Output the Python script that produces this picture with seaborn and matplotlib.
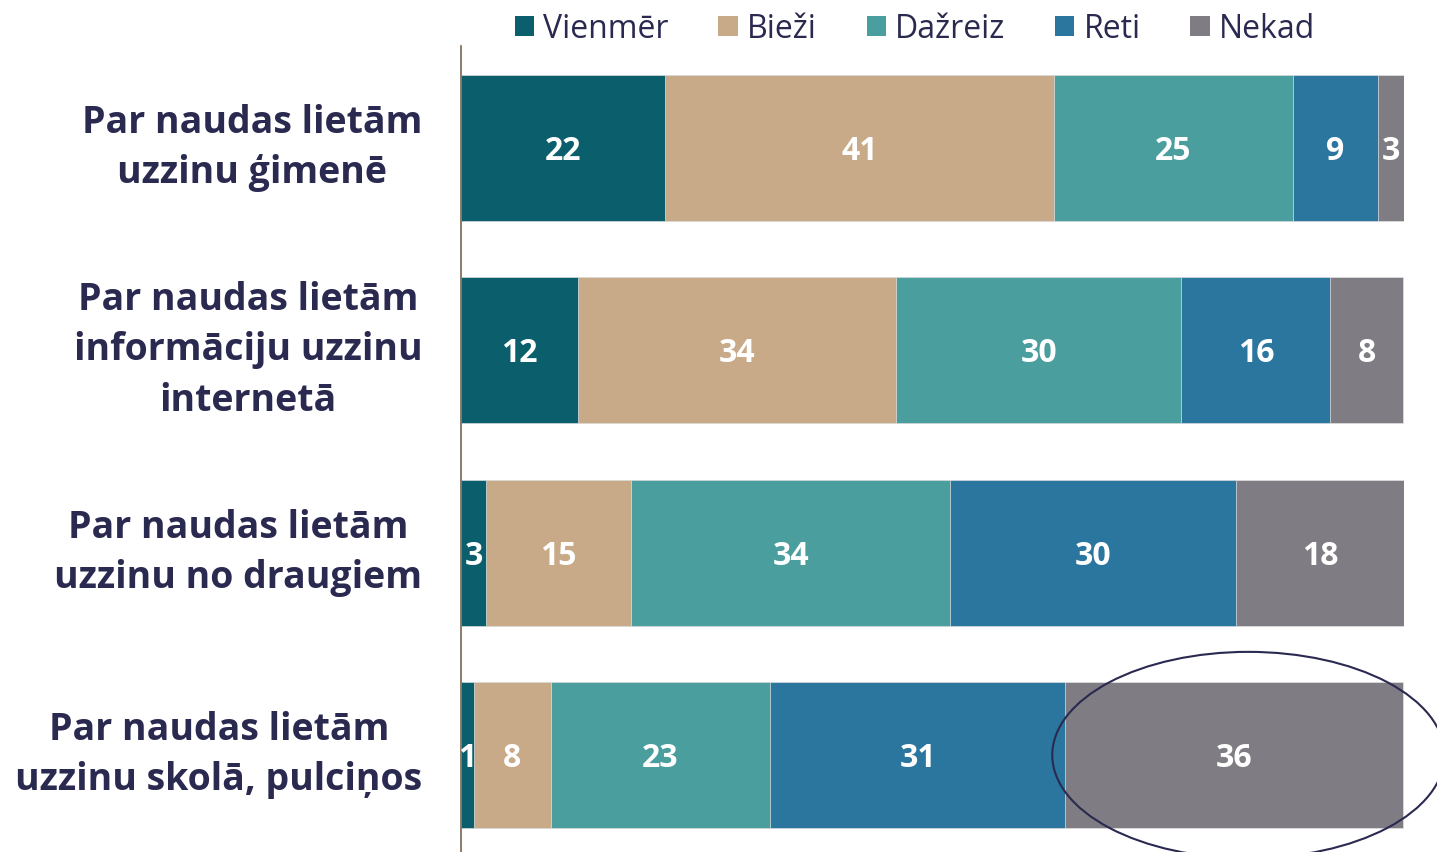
import numpy as np
import pandas as pd
import seaborn as sns
import matplotlib.pyplot as plt
from matplotlib.patches import Ellipse, Patch

questions = [
    "Par naudas lietām\nuzzinu ģimenē",
    "Par naudas lietām\ninformāciju uzzinu\ninternetā",
    "Par naudas lietām\nuzzinu no draugiem",
    "Par naudas lietām\nuzzinu skolā, pulciņos",
]
categories = ["Vienmēr", "Bieži", "Dažreiz", "Reti", "Nekad"]

# shares in %
vienmer = [21.6, 12.4, 2.7, 1.4]
biezi = [41.3, 33.7, 15.3, 8.1]
dazreiz = [25.3, 30.3, 33.9, 23.3]
reti = [9.0, 15.8, 30.3, 31.3]
nekad = [2.8, 7.7, 17.8, 35.8]

colors = ["#0b5e6b", "#c9aa88", "#4a9e9e", "#2a769f", "#7f7d83"]
navy = "#2a2950"

sns.set_theme(style="white")
plt.rcParams["font.family"] = ["Open Sans", "DejaVu Sans"]

rows = []
for cat, vals in zip(categories, [vienmer, biezi, dazreiz, reti, nekad]):
    for q, v in zip(questions, vals):
        rows.append({"question": q, "category": cat, "value": v})
df = pd.DataFrame(rows)
df["qi"] = df["question"].map({q: i for i, q in enumerate(questions)})
df["ci"] = df["category"].map({c: i for i, c in enumerate(categories)})
df = df.sort_values(["qi", "ci"])
df["cum"] = df.groupby("qi")["value"].cumsum()
df["start"] = df["cum"] - df["value"]

fig = plt.figure(figsize=(14.37, 8.52), dpi=100)
ax = fig.add_axes([461 / 1437, 0.0, 943 / 1437, 1 - 46 / 852])

# stacked bars: draw cumulative totals from the widest down
for cat, col in reversed(list(zip(categories, colors))):
    sub = df[df["category"] == cat]
    sns.barplot(data=sub, x="cum", y="question", order=questions, color=col,
                width=0.72, orient="h", ax=ax, saturation=1,
                edgecolor="#e2e2e2", linewidth=0.5)

for _, r in df.iterrows():
    ax.text(r["start"] + r["value"] / 2, r["qi"] + 0.018, f"{round(r['value'])}",
            ha="center", va="center", color="white", fontsize=23,
            fontweight="bold")

for i, q in enumerate(questions):
    ax.text(-4.1, i, q, ha="right", va="center", multialignment="center",
            fontsize=27, fontweight="bold", color=navy, linespacing=1.42,
            clip_on=False)

ax.add_patch(Ellipse((83.5, 3), 41.6, 1.02, fill=False, edgecolor=navy,
                     linewidth=1.5, clip_on=False))

ax.set_xlim(0, 100)
ax.set_ylim(3.479, -0.504)
ax.set_xlabel("")
ax.set_ylabel("")
ax.set_xticks([])
ax.set_yticks([])
for s in ["top", "right", "bottom"]:
    ax.spines[s].set_visible(False)
ax.spines["left"].set_color("#7a6552")
ax.spines["left"].set_linewidth(1.2)

handles = [Patch(facecolor=c, edgecolor="none") for c in colors]
fig.legend(handles, categories, loc="center", bbox_to_anchor=(915 / 1437, 1 - 29 / 852),
           ncol=5, frameon=False, fontsize=23, handlelength=0.6, handleheight=0.6,
           handletextpad=0.3, columnspacing=1.55, labelcolor=navy)

fig.savefig("out.png", dpi=100)
